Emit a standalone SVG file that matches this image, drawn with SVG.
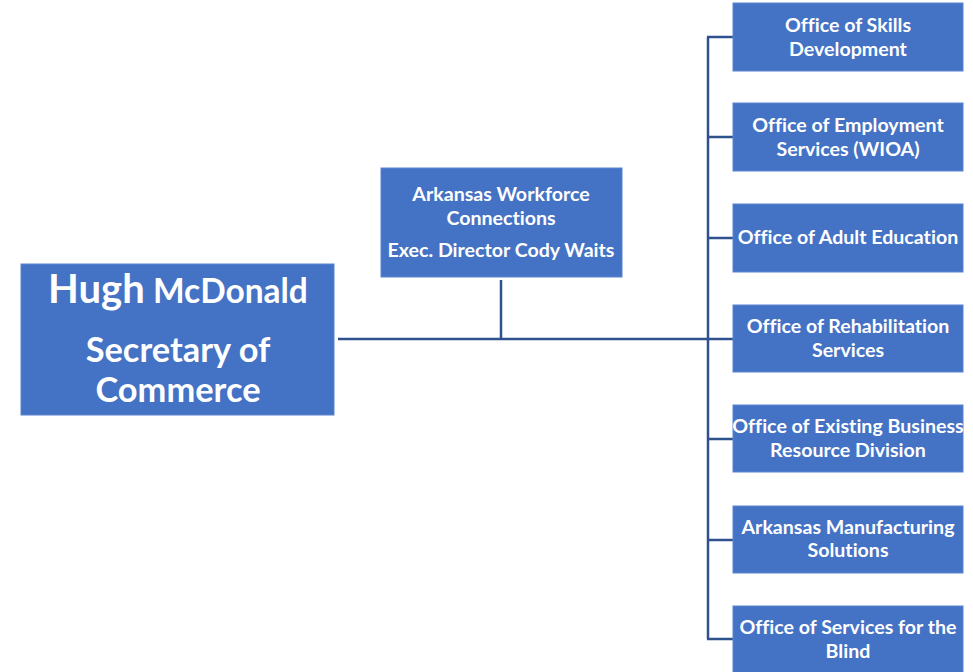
<svg xmlns="http://www.w3.org/2000/svg" width="973" height="672" viewBox="0 0 973 672">
<style>
.box{fill:#4472C4;stroke:#5A84CF;stroke-width:1}
.t{font-family:Lato,"Open Sans","Liberation Sans",sans-serif;font-weight:bold;fill:#FFFFFF;text-anchor:middle;font-variant-ligatures:none;font-feature-settings:"liga" 0,"dlig" 0}
.s{font-size:19.6px}
.c{fill:none;stroke:#2F528F;stroke-width:2.5}
</style>
<rect width="973" height="672" fill="#FFFFFF"/>
<g id="connectors">
<path class="c" d="M338 339 H708"/>
<path class="c" d="M501 280 V339"/>
<path class="c" d="M708 37 V639"/>
<path class="c" d="M707 37 H733 M707 137 H733 M707 238 H733 M707 339 H733 M707 439 H733 M707 540 H733 M707 639 H733"/>
</g>
<g id="secretary">
<rect class="box" x="21" y="264" width="313" height="151"/>
<text class="t" x="178" y="303"><tspan font-size="40">Hugh</tspan><tspan font-size="33.5"> McDonald</tspan></text>
<text class="t" x="178" y="362" font-size="34.4">Secretary of</text>
<text class="t" x="178" y="402" font-size="34.4">Commerce</text>
</g>
<g id="awc">
<rect class="box" x="381" y="168" width="241" height="109"/>
<text class="t s" x="501" y="201">Arkansas Workforce</text>
<text class="t s" x="501" y="225">Connections</text>
<text class="t s" x="501" y="257">Exec. Director Cody Waits</text>
</g>
<g id="skills">
<rect class="box" x="733" y="3" width="230" height="68"/>
<text class="t s" x="848" y="32">Office of Skills</text>
<text class="t s" x="848" y="56">Development</text>
</g>
<g id="employment">
<rect class="box" x="733" y="103" width="230" height="68"/>
<text class="t s" x="848" y="132">Office of Employment</text>
<text class="t s" x="848" y="156">Services (WIOA)</text>
</g>
<g id="adulted">
<rect class="box" x="733" y="204" width="230" height="68"/>
<text class="t s" x="848" y="244">Office of Adult Education</text>
</g>
<g id="rehab">
<rect class="box" x="733" y="305" width="230" height="67"/>
<text class="t s" x="848" y="333">Office of Rehabilitation</text>
<text class="t s" x="848" y="357">Services</text>
</g>
<g id="existing">
<rect class="box" x="733" y="405" width="230" height="67"/>
<text class="t s" x="848" y="433">Office of Existing Business</text>
<text class="t s" x="848" y="457">Resource Division</text>
</g>
<g id="manufacturing">
<rect class="box" x="733" y="506" width="230" height="67"/>
<text class="t s" x="848" y="534">Arkansas Manufacturing</text>
<text class="t s" x="848" y="557">Solutions</text>
</g>
<g id="blind">
<rect class="box" x="733" y="606" width="230" height="68"/>
<text class="t s" x="848" y="634">Office of Services for the</text>
<text class="t s" x="848" y="658">Blind</text>
</g>
</svg>
